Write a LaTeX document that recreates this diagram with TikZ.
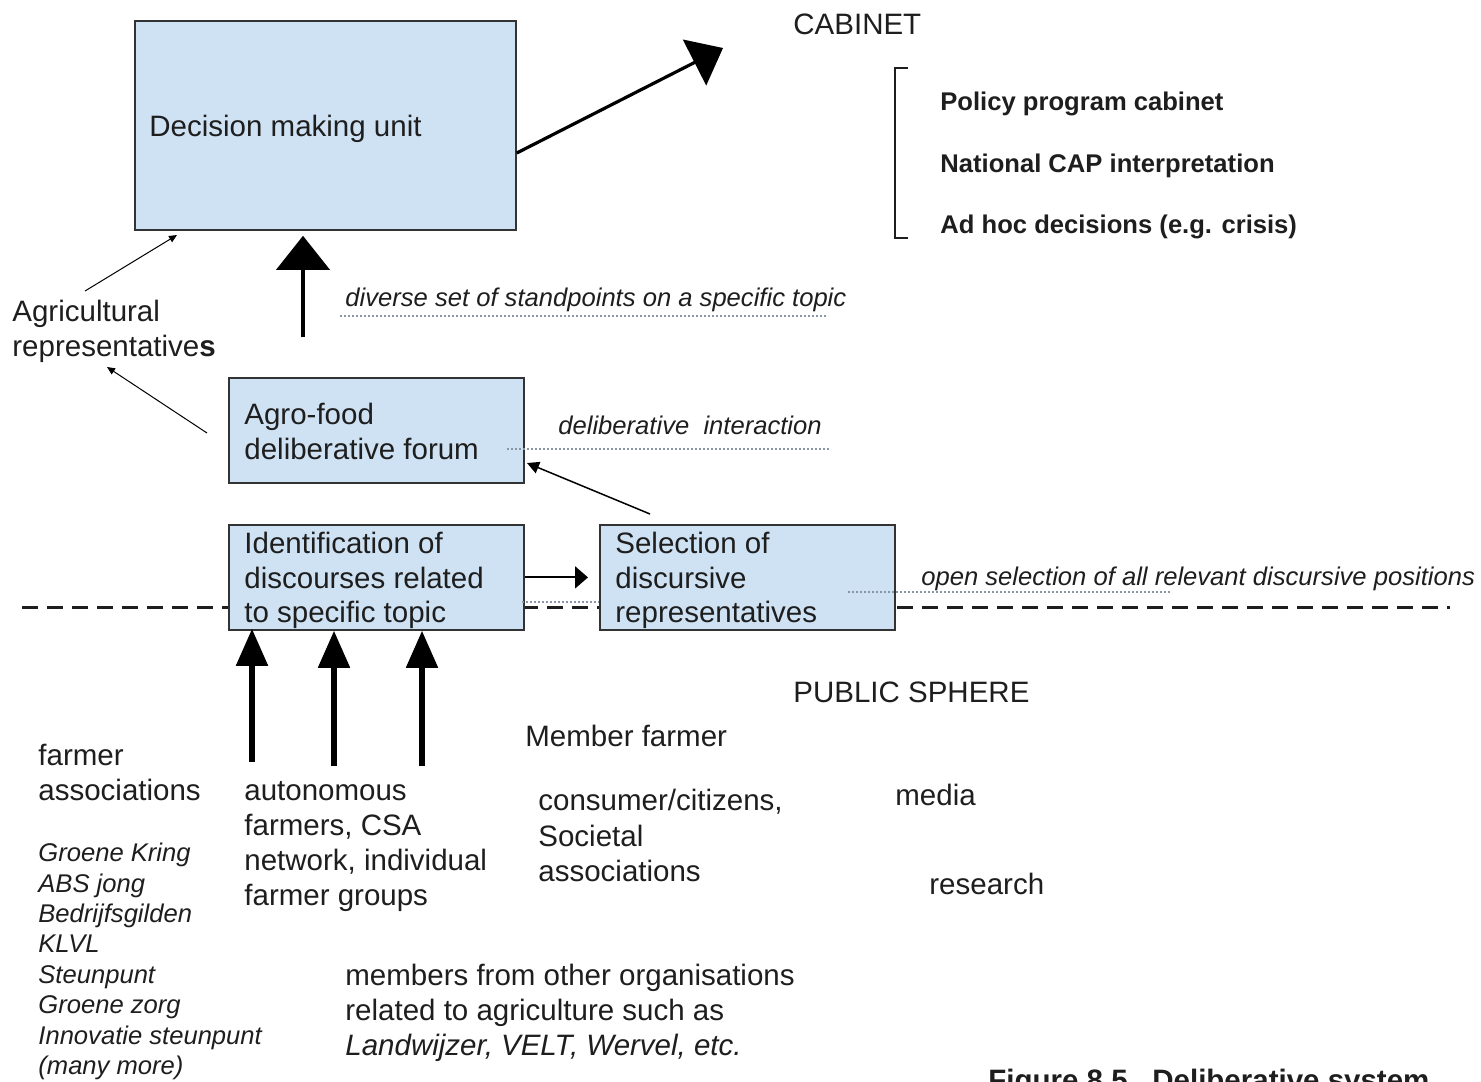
\documentclass[tikz,border=0pt]{standalone}
\usepackage{fontspec}
\setmainfont{Liberation Sans}
\usetikzlibrary{arrows.meta,calc}
\definecolor{boxblue}{HTML}{CFE2F3}
\definecolor{boxline}{HTML}{333333}
\definecolor{ink}{HTML}{1E1E1E}
\definecolor{dotgray}{HTML}{8A96A8}
\begin{document}
\begin{tikzpicture}[x=0.5pt,y=-0.5pt,
  txt/.style={font=\fontsize{14.75}{17.5}\selectfont, text=ink, inner sep=0, anchor=base west},
  itl/.style={font=\fontsize{12.8}{15}\selectfont\itshape, text=ink, inner sep=0, anchor=base west},
  bld/.style={font=\fontsize{12.8}{15}\selectfont\bfseries, text=ink, inner sep=0, anchor=base west},
  box/.style={draw=boxline, fill=boxblue, line width=0.9pt, inner sep=0, anchor=north west},
  dotline/.style={draw=dotgray, line width=0.6pt, dash pattern=on 0.8pt off 1.2pt},
  divider/.style={draw=ink, line width=1.5pt, dash pattern=on 8pt off 4.5pt},
  bigarrow/.style={draw=black, line width=1.6pt, -{Triangle[length=16pt,width=25.5pt]}},
  uparrow/.style={draw=black, line width=2pt, -{Triangle[length=17pt,width=26.5pt]}},
  inarrow/.style={draw=black, line width=2.6pt, -{Triangle[length=18.5pt,width=15.5pt]}},
  midarrow/.style={draw=black, line width=1pt, -{Triangle[length=6.5pt,width=11pt]}},
  thinarrow/.style={draw=black, line width=0.75pt, -{Triangle[length=6pt,width=6pt]}},
  hairarrow/.style={draw=black, line width=0.5pt, -{Triangle[length=4pt,width=3.5pt]}},
]
\useasboundingbox (0,0) rectangle (1481,1081);
\fill[white] (0,0) rectangle (1481,1081);

% boundary between the decision arena and the public sphere
\coordinate (divl) at (22,607);
\coordinate (divr) at (1450,607);
\draw[divider] (divl) -- (divr);

% boxes
\node[box, minimum width=190.5pt, minimum height=104.5pt] (dmu) at (134,20) {};
\node[box, minimum width=147.5pt, minimum height=52.5pt] (forum) at (228,377) {};
\node[box, minimum width=147.5pt, minimum height=52.5pt] (ident) at (228,524) {};
\node[box, minimum width=147.5pt, minimum height=52.5pt] (select) at (599,524) {};

% box texts
\node[txt] (dmut) at (149,136) {Decision making unit};
\node[txt] (fo1) at (244,424) {Agro-food};
\node[txt] (fo2) at (244,459) {deliberative forum};
\node[txt] (id1) at (244,553) {Identification of};
\node[txt] (id2) at (244,588) {discourses related};
\node[txt] (id3) at (244,622) {to specific topic};
\node[txt] (se1) at (615,553) {Selection of};
\node[txt] (se2) at (615,588) {discursive};
\node[txt] (se3) at (615,622) {representatives};

% cabinet side
\node[txt] (cab) at (793,35) {CABINET};
\coordinate (cabtip) at (723,48);
\draw[bigarrow] ($(dmu.north east)+(0,133)$) -- (cabtip);
\coordinate (brt) at (908,68);
\coordinate (brb) at (908,238);
\draw[ink, line width=0.8pt] (brt) -- ++(-13,0) |- (brb);
\node[bld] (pol1) at (940,111) {Policy program cabinet};
\node[bld] (pol2) at (940,172) {National CAP interpretation};
\node[bld] (pol3) at (940,233) {Ad hoc decisions (e.g. crisis)};

% representatives
\node[txt] (ag1) at (12,321) {Agricultural};
\node[txt] (ag2) at (12,356) {representative\textbf{s}};
\coordinate (ag1top) at (85,291);
\coordinate (dmuin) at (177,235);
\draw[hairarrow] (ag1top) -- (dmuin);
\coordinate (forumout) at (207,433);
\coordinate (ag2low) at (107,367);
\draw[hairarrow] (forumout) -- (ag2low);

% forum to decision unit
\coordinate (upstart) at (303,337);
\draw[uparrow] (upstart) -- ([yshift=-2.5pt]dmu.south -| upstart);
\node[itl] (lab1) at (345,306) {diverse set of standpoints on a specific topic};
\coordinate (d1a) at (340,316);
\coordinate (d1b) at (828,316);
\draw[dotline] (d1a) -- (d1b);

% deliberative interaction
\node[itl] (lab2) at (558,434) {deliberative\ \ interaction};
\coordinate (d2a) at (507,449);
\coordinate (d2b) at (830,449);
\draw[dotline] (d2a) -- (d2b);
\coordinate (selout) at (650,514);
\coordinate (forumin) at (527,463);
\draw[thinarrow] (selout) -- (forumin);

% identification to selection
\draw[midarrow] (ident.east) -- ([xshift=-5.5pt]select.west);
\coordinate (d4a) at (522,602);
\coordinate (d4b) at (599,602);
\draw[dotline] (d4a) -- (d4b);

% open selection
\coordinate (d3a) at (848,592);
\coordinate (d3b) at (1170,592);
\draw[dotline] (d3a) -- (d3b);
\node[itl] (lab3) at (921,585) {open selection of all relevant discursive positions};

% inputs from the public sphere
\coordinate (in1) at (252,762);
\coordinate (in2) at (334,766);
\coordinate (in3) at (422,766);
\draw[inarrow] (in1) -- ([yshift=1pt]ident.south -| in1);
\draw[inarrow] (in2) -- (ident.south -| in2);
\draw[inarrow] (in3) -- (ident.south -| in3);

% public sphere
\node[txt] (ps) at (793,702) {PUBLIC SPHERE};
\node[txt] (mf) at (525,746) {Member farmer};
\node[txt] (fa1) at (38,765) {farmer};
\node[txt] (fa2) at (38,800) {associations};
\node[txt] (au1) at (244,800) {autonomous};
\node[txt] (au2) at (244,835) {farmers, CSA};
\node[txt] (au3) at (244,870) {network, individual};
\node[txt] (au4) at (244,905) {farmer groups};
\node[txt] (cc1) at (538,810) {consumer/citizens,};
\node[txt] (cc2) at (538,846) {Societal};
\node[txt] (cc3) at (538,881) {associations};
\node[txt] (med) at (895,805) {media};
\node[txt] (res) at (929,894) {research};

\node[itl] (l1) at (38,861) {Groene Kring};
\node[itl] (l2) at (38,892) {ABS jong};
\node[itl] (l3) at (38,922) {Bedrijfsgilden};
\node[itl] (l4) at (38,952) {KLVL};
\node[itl] (l5) at (38,983) {Steunpunt};
\node[itl] (l6) at (38,1013) {Groene zorg};
\node[itl] (l7) at (38,1044) {Innovatie steunpunt};
\node[itl] (l8) at (38,1074) {(many more)};

\node[txt] (mo1) at (345,985) {members from other organisations};
\node[txt] (mo2) at (345,1020) {related to agriculture such as};
\node[txt] (mo3) at (345,1055) {\itshape Landwijzer, VELT, Wervel, etc.};

\node[txt, font=\fontsize{14.75}{17.5}\selectfont\bfseries] (cap) at (988,1090) {Figure 8.5.\ \ Deliberative system};
\end{tikzpicture}
\end{document}
